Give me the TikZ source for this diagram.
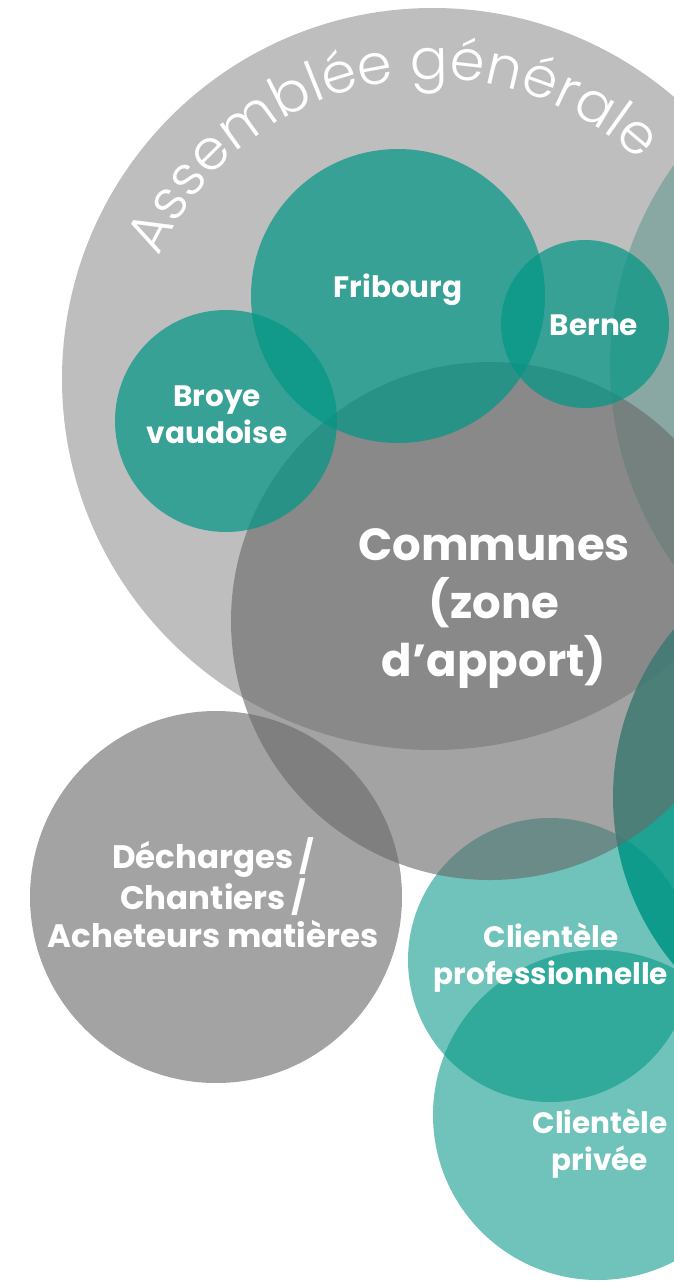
\documentclass[tikz,border=0pt]{standalone}
\usepackage{fontspec}
\setmainfont{Poppins}
\newfontfamily\agfont{Poppins Light}
\usetikzlibrary{decorations.text}
\definecolor{agray}{RGB}{190,190,190}
\definecolor{cgray}{RGB}{105,105,105}
\definecolor{teal}{RGB}{3,150,133}
\definecolor{mteal}{RGB}{86,148,138}
\tikzset{
  bub/.style={circle, inner sep=0pt, draw=none},
  tealA/.style={bub, fill=teal, fill opacity=0.716},
  tealL/.style={bub, fill=teal, fill opacity=0.57},
  grayB/.style={bub, fill=cgray, fill opacity=0.615},
  lbl/.style={text=white, align=center, font=\bfseries\fontsize{29.5}{37}\selectfont},
}
\begin{document}
\begin{tikzpicture}[x=1pt,y=1pt]
\useasboundingbox (0,0) rectangle (674,-1282);
\clip (0,0) rectangle (674,-1282);
% circles
\node[bub, fill=agray, minimum size=742pt] (ag) at (433,-379) {};
\node[bub, fill=mteal, fill opacity=0.5, minimum size=690pt] (tr) at (955,-365) {};
\node[bub, fill=teal, fill opacity=0.89, minimum size=524pt] (lr) at (875,-797) {};
\node[tealL, minimum size=284pt] (prof) at (550,-960) {};
\node[tealL, minimum size=330pt] (priv) at (598,-1115) {};
\node[grayB, minimum size=372pt] (dech) at (216,-897) {};
\node[grayB, minimum size=518pt] (comm) at (490,-621) {};
\node[tealA, minimum size=222pt] (broye) at (226,-421) {};
\node[tealA, minimum size=294pt] (frib) at (398,-296) {};
\node[tealA, minimum size=168pt] (berne) at (585,-324) {};
% arc title
\path[decorate, decoration={text along path,
   text={|\agfont\fontsize{56}{56}\selectfont\color{white}|Assemblée générale},
   text align={fit to path}}]
   (ag.center) ++(156:300) arc[start angle=156, end angle=46.5, radius=300];
% labels
\node[lbl] (tfrib) at (398,-290) {Fribourg};
\node[lbl] (tberne) at (594,-325) {Berne};
\node[lbl] (tbroye) at (217,-415) {Broye\\vaudoise};
\node[lbl, font=\bfseries\fontsize{45}{58}\selectfont] (tcomm) at (494,-609) {Communes\\(zone\\d’apport)};
\node[lbl, font=\bfseries\fontsize{32.5}{38}\selectfont] (tdech) at (213,-893) {Décharges\,/\\Chantiers\,/\\Acheteurs matières};
\node[lbl] (tprof) at (551,-958) {Clientèle\\professionnelle};
\node[lbl] (tpriv) at (600,-1144) {Clientèle\\privée};
\end{tikzpicture}
\end{document}
